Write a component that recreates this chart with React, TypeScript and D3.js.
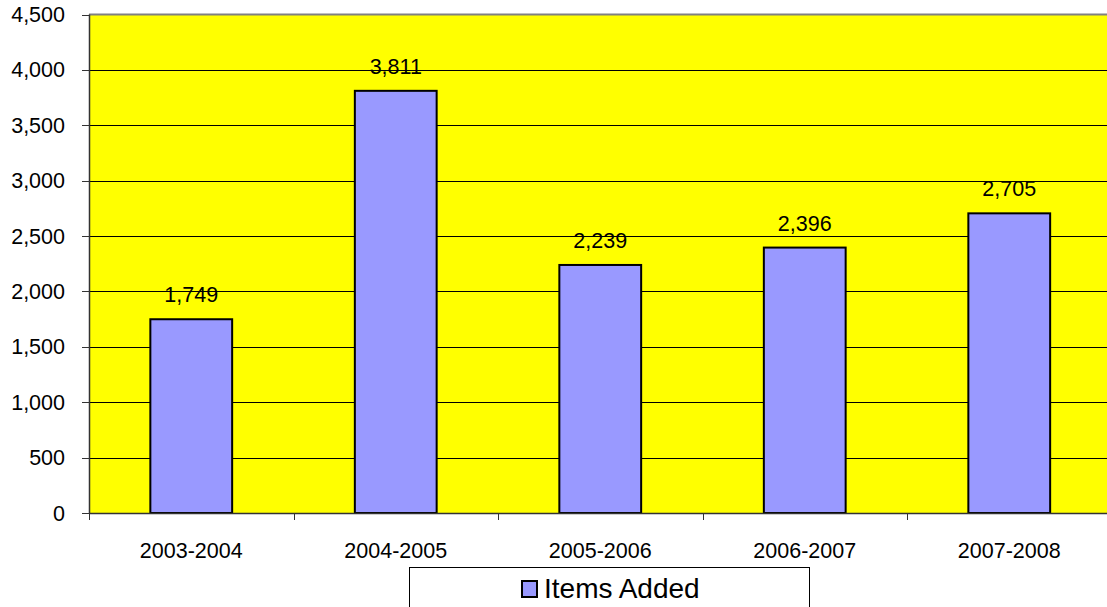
import React from "react";
import * as d3 from "d3";

const categories = ["2003-2004", "2004-2005", "2005-2006", "2006-2007", "2007-2008"];
const itemsAdded = [1749, 3811, 2239, 2396, 2705];
const yTicks = [0, 500, 1000, 1500, 2000, 2500, 3000, 3500, 4000, 4500];
const seriesName = "Items Added";

export default function App() {
  const W = 1107, H = 607;
  const left = 89, top = 14.5, bottom = 513, right = 1111.5;
  const x = d3.scaleBand<string>().domain(categories).range([left, right]).paddingInner(0.6).paddingOuter(0.3);
  const xb = d3.scaleBand<string>().domain(categories).range([left, right]);
  const y = d3.scaleLinear().domain([0, 4500]).range([bottom, top]);
  const fmt = d3.format(",");
  const font = "'Liberation Sans', Arial, sans-serif";
  return (
    <svg width={W} height={H} style={{ position: "absolute", left: 0, top: 0 }} fontFamily={font}>
      <rect x={left} y={top} width={W - left} height={bottom - top} fill="#ffff00" />
      {yTicks.map((t) => (
        <g key={t}>
          {t > 0 && t < 4500 && (
            <line x1={left} x2={W} y1={Math.round(y(t)) + 0.5} y2={Math.round(y(t)) + 0.5} stroke="#000" strokeWidth={1} />
          )}
          <line x1={left - 7} x2={left} y1={Math.round(y(t)) + 0.5} y2={Math.round(y(t)) + 0.5} stroke="#333" />
          <text x={65} y={y(t)} dy="0.35em" textAnchor="end" fontSize={21.5} fill="#000">
            {fmt(t)}
          </text>
        </g>
      ))}
      <line x1={left} x2={W} y1={top} y2={top} stroke="#808080" strokeWidth={2} />
      {categories.map((c, i) => (
        <g key={c}>
          <rect
            x={x(c)!}
            y={y(itemsAdded[i])}
            width={x.bandwidth()}
            height={bottom - y(itemsAdded[i])}
            fill="#9999ff"
            stroke="#000"
            strokeWidth={2}
          />
          <text x={x(c)! + x.bandwidth() / 2} y={y(itemsAdded[i]) - 17} textAnchor="middle" fontSize={21.5} fill="#000">
            {fmt(itemsAdded[i])}
          </text>
          <text x={xb(c)! + xb.bandwidth() / 2} y={558} textAnchor="middle" fontSize={21.5} fill="#000">
            {c}
          </text>
        </g>
      ))}
      {[...categories.map((c) => xb(c)!), right].map((v, i) => (
        <line key={i} x1={Math.round(v) + 0.5} x2={Math.round(v) + 0.5} y1={bottom} y2={bottom + 7} stroke="#333" />
      ))}
      <line x1={left} x2={W} y1={bottom + 0.5} y2={bottom + 0.5} stroke="#333" strokeWidth={1.5} />
      <line x1={left + 0.5} x2={left + 0.5} y1={top} y2={bottom} stroke="#333" strokeWidth={1.5} />
      <rect x={409.5} y={567.5} width={400} height={50} fill="#fff" stroke="#000" />
      <rect x={522} y={581} width={15} height={16} fill="#9999ff" stroke="#000" strokeWidth={2} />
      <text x={544} y={598} fontSize={28} fill="#000">{seriesName}</text>
    </svg>
  );
}
